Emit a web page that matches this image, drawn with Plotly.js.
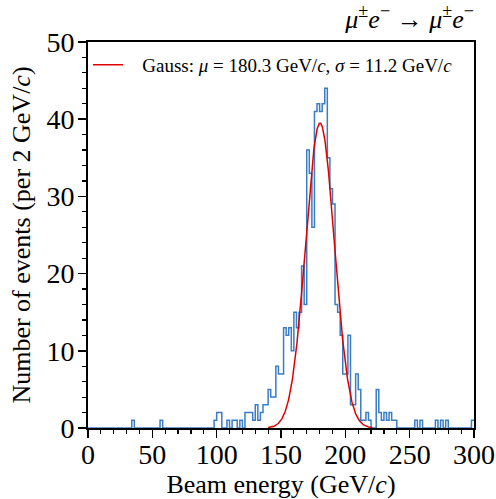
<!DOCTYPE html>
<html>
<head>
<meta charset="utf-8">
<script src="https://cdn.plot.ly/plotly-3.0.1.min.js"></script>
<style>html,body{margin:0;padding:0;background:#fff;}#chart{width:496px;height:499px;}</style>
</head>
<body>
<div id="chart"></div>
<script>
// Histogram: left edge of each non-empty 2 GeV bin and its count
const binWidth = 2;
const binLeft = [34, 56, 98, 100, 102, 108, 112, 114, 118, 122, 124, 126, 128, 130, 132, 134, 136, 138,
  140, 142, 144, 146, 148, 150, 152, 154, 156, 158, 160, 162, 164, 166, 168, 170, 172, 174, 176, 178,
  180, 182, 184, 186, 188, 190, 192, 194, 196, 198, 200, 202, 204, 206, 208, 210, 212, 214, 216, 218,
  224, 226, 228, 230, 232, 234, 236, 238, 254, 258, 270, 274, 278, 298];
const binCount = [1, 1, 1, 2, 2, 1, 1, 1, 1, 2, 2, 2, 1, 3, 1, 2, 3, 3,
  5, 4, 4, 8, 7, 7, 13, 12, 13, 10, 15, 13, 15, 21, 16, 36, 33, 26, 41, 42,
  41, 42, 44, 35, 31, 29, 16, 15, 12, 7, 7, 12, 3, 3, 7, 5, 1, 1, 2, 1,
  5, 2, 1, 2, 1, 2, 1, 1, 1, 1, 1, 1, 1, 1];
// Gaussian fit (parameters as printed in legend, amplitude)
const fitMu = 180.3, fitSigma = 11.2, fitAmp = 39.5;
const fitRange = [140, 221];
const xRange = [0, 300], yRange = [0, 50];
const xTickVals = [0, 50, 100, 150, 200, 250, 300];
const yTickVals = [0, 10, 20, 30, 40, 50];

// build full step histogram from bins
const nBins = Math.round((xRange[1] - xRange[0]) / binWidth);
const counts = new Array(nBins).fill(0);
binLeft.forEach((b, i) => { counts[Math.round((b - xRange[0]) / binWidth)] = binCount[i]; });
const hx = [], hy = [];
for (let i = 0; i < nBins; i++) { hx.push(xRange[0] + i * binWidth); hy.push(counts[i]); }
hx.push(xRange[1]); hy.push(counts[nBins - 1]);

const gx = [], gy = [];
for (let x = fitRange[0]; x <= fitRange[1] + 1e-9; x += 0.25) {
  gx.push(x);
  gy.push(fitAmp * Math.exp(-0.5 * Math.pow((x - fitMu) / fitSigma, 2)));
}

const F = 'Liberation Serif, Times New Roman, serif';
const traces = [
  {x: hx, y: hy, type: 'scatter', mode: 'lines', line: {shape: 'hv', color: '#3a7cc6', width: 1.5},
   showlegend: false, hoverinfo: 'skip'},
  {x: gx, y: gy, type: 'scatter', mode: 'lines', line: {color: '#e00000', width: 1.5},
   name: '&nbsp;&nbsp;&nbsp;Gauss: <i>μ</i> = 180.3 GeV/<i>c</i>, <i>σ</i> = 11.2 GeV/<i>c</i>'}
];
const axisCommon = {
  showline: true, linecolor: '#000', linewidth: 2, mirror: true,
  ticks: 'outside', ticklen: 8, tickwidth: 1.5, tickcolor: '#000',
  showgrid: false, zeroline: false,
  tickfont: {family: F, size: 28, color: '#000'}
};
const layout = {
  width: 496, height: 499,
  margin: {l: 88, r: 22, t: 42, b: 71},
  paper_bgcolor: '#fff', plot_bgcolor: '#fff',
  font: {family: F, color: '#000'},
  title: {text: '<i>μ</i><sup>±</sup><i>e</i><sup>−</sup> → <i>μ</i><sup>±</sup><i>e</i><sup>−</sup>',
          font: {family: F, size: 26, color: '#000'},
          x: 1, xref: 'paper', xanchor: 'right', y: 0.962, yref: 'container', yanchor: 'middle'},
  xaxis: Object.assign({}, axisCommon, {
    range: xRange, tickvals: xTickVals, ticktext: xTickVals.map(String),
    ticklabelstandoff: -8,
    minor: {dtick: 10, ticks: 'outside', ticklen: 4, tickwidth: 1.2, tickcolor: '#000'},
    title: {text: 'Beam energy (GeV/<i>c</i>)', font: {family: F, size: 26, color: '#000'}, standoff: 7}
  }),
  yaxis: Object.assign({}, axisCommon, {
    range: yRange, tickvals: yTickVals, ticktext: yTickVals.map(String),
    ticklabelstandoff: -2,
    minor: {dtick: 2, ticks: 'outside', ticklen: 4, tickwidth: 1.2, tickcolor: '#000'},
    title: {text: 'Number of events (per 2 GeV/<i>c</i>)', font: {family: F, size: 26, color: '#000'}, standoff: 8}
  }),
  showlegend: true,
  legend: {x: 0.0, y: 0.99, xanchor: 'left', yanchor: 'top', bgcolor: 'rgba(0,0,0,0)',
           font: {family: F, size: 19, color: '#000'}}
};
Plotly.newPlot('chart', traces, layout, {staticPlot: true, displayModeBar: false});
</script>
</body>
</html>
